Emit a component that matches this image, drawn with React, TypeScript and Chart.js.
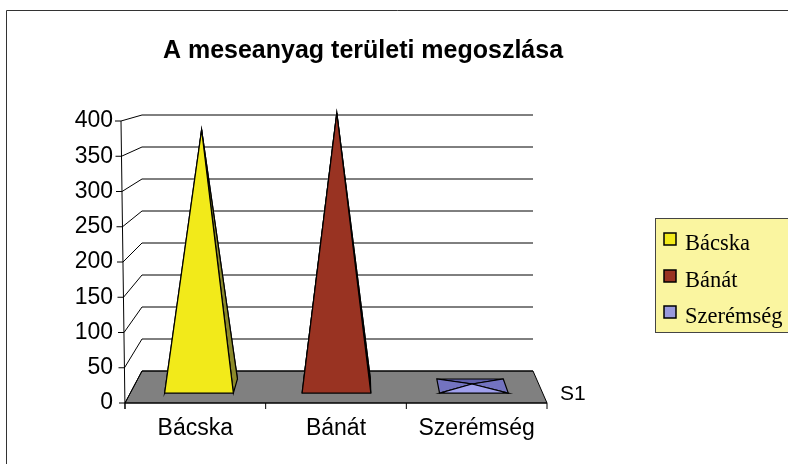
import React, { useEffect, useRef } from "react";
import { Chart, registerables } from "chart.js";

Chart.register(...registerables);

// ---------- data ----------
const chartTitle = "A meseanyag területi megoszlása";
const categories = ["Bácska", "Bánát", "Szerémség"];
const seriesName = "S1";
const seriesValues = [382, 407, 3];
const yMin = 0;
const yMax = 400;
const yStep = 50;

// ---------- styles ----------
const frontColors = ["#F2EA1A", "#993322", "#A0A0EC"];
const sideColors = ["#8C8A2A", "#5E1F14", "#7373C0"];
const backColors = ["#C9C21A", "#7A2A1A", "#5F5FAA"];
const legendColors = ["#F2EA1A", "#993322", "#9999DD"];
const floorColor = "#808080";
const legendFill = "#FAF5A0";
const SANS = "'Liberation Sans', Arial, sans-serif";
const SERIF = "'Liberation Serif', 'Times New Roman', serif";

function geometry(chart: any) {
  const ca = chart.chartArea;
  const l = ca.left, r = ca.right, t = ca.top, b = ca.bottom;
  const bl = l + 17, br = r - 14, bt = t - 6, bb = b - 32;
  const backX = (xf: number) => bl + ((xf - l) * (br - bl)) / (r - l);
  const backY = (yf: number) => bt + ((yf - t) * (bb - bt)) / (b - t);
  const proj = (xf: number, yf: number, d: number): [number, number] => [
    xf + (backX(xf) - xf) * d,
    yf + (backY(yf) - yf) * d,
  ];
  const axisX = (yf: number) => l - (4 * (b - yf)) / (b - t);
  return { l, r, t, b, proj, axisX };
}

function poly(ctx: CanvasRenderingContext2D, pts: [number, number][], fill: string) {
  ctx.beginPath();
  ctx.moveTo(pts[0][0], pts[0][1]);
  for (let i = 1; i < pts.length; i++) ctx.lineTo(pts[i][0], pts[i][1]);
  ctx.closePath();
  ctx.fillStyle = fill;
  ctx.fill();
  ctx.stroke();
}

const frame3d = {
  id: "frame3d",
  beforeDatasetsDraw(chart: any) {
    const ctx: CanvasRenderingContext2D = chart.ctx;
    const xs = chart.scales.x;
    const ys = chart.scales.y;
    const g = geometry(chart);
    const y0 = ys.getPixelForValue(0);
    ctx.save();
    ctx.lineWidth = 1;
    ctx.strokeStyle = "#000";
    // floor
    poly(ctx, [[g.l, y0], g.proj(g.l, y0, 1), g.proj(g.r, y0, 1), [g.r, y0]], floorColor);
    // back wall gridlines + left wall diagonals + tick marks
    ctx.beginPath();
    for (const tk of ys.ticks) {
      const yf = ys.getPixelForValue(tk.value);
      const ax = g.axisX(yf);
      const p0 = g.proj(g.l, yf, 1);
      const p1 = g.proj(g.r, yf, 1);
      ctx.moveTo(ax - 6, yf);
      ctx.lineTo(ax, yf);
      ctx.lineTo(p0[0], p0[1]);
      ctx.lineTo(p1[0], p1[1]);
    }
    // front vertical axis
    ctx.moveTo(g.axisX(g.t), g.t);
    ctx.lineTo(g.l, y0 + 6);
    // front floor edge
    ctx.moveTo(g.l, y0);
    ctx.lineTo(g.r, y0);
    // category boundary ticks
    const cw = xs.getPixelForValue(1) - xs.getPixelForValue(0);
    for (let i = 0; i <= categories.length; i++) {
      const xb = xs.getPixelForValue(0) - cw / 2 + i * cw;
      ctx.moveTo(xb, y0);
      ctx.lineTo(xb, y0 + 6);
    }
    ctx.stroke();
    ctx.restore();
  },
  afterDatasetsDraw(chart: any) {
    const ctx: CanvasRenderingContext2D = chart.ctx;
    const xs = chart.scales.x;
    const ys = chart.scales.y;
    const g = geometry(chart);
    const y0 = ys.getPixelForValue(0);
    const cw = xs.getPixelForValue(1) - xs.getPixelForValue(0);
    const half = cw * 0.25;
    const d1 = 0.31, d2 = 0.75, dm = 0.53;
    ctx.save();
    ctx.lineWidth = 1.2;
    ctx.strokeStyle = "#000";
    ctx.lineJoin = "miter";
    ctx.miterLimit = 12;
    const data = chart.data.datasets[0].data as number[];
    data.forEach((v, i) => {
      const c = xs.getPixelForValue(i);
      const FL = g.proj(c - half, y0, d1);
      const FR = g.proj(c + half, y0, d1);
      const BR = g.proj(c + half, y0, d2);
      const BL = g.proj(c - half, y0, d2);
      const A = g.proj(c, ys.getPixelForValue(v), dm);
      poly(ctx, [BL, BR, A], backColors[i]);
      poly(ctx, [FL, BL, A], sideColors[i]);
      poly(ctx, [FR, BR, A], sideColors[i]);
      poly(ctx, [FL, FR, A], frontColors[i]);
    });
    ctx.restore();
  },
  afterDraw(chart: any) {
    const ctx: CanvasRenderingContext2D = chart.ctx;
    const g = geometry(chart);
    ctx.save();
    // outer chart border
    ctx.strokeStyle = "#333";
    ctx.lineWidth = 1;
    ctx.beginPath();
    ctx.moveTo(6.5, chart.height + 2);
    ctx.lineTo(6.5, 10.5);
    ctx.lineTo(chart.width + 2, 10.5);
    ctx.stroke();
    // title
    ctx.fillStyle = "#000";
    ctx.font = `bold 25px ${SANS}`;
    ctx.textAlign = "center";
    ctx.textBaseline = "alphabetic";
    ctx.fillText(chartTitle, 363, 57.5);
    // series label on depth axis
    ctx.font = `21px ${SANS}`;
    ctx.textAlign = "left";
    ctx.fillText(seriesName, g.r + 13, g.b - 3);
    // legend
    const lx = 655.5, ly = 218.5, lw = 140, lh = 114;
    ctx.fillStyle = legendFill;
    ctx.fillRect(lx, ly, lw, lh);
    ctx.strokeStyle = "#444";
    ctx.strokeRect(lx, ly, lw, lh);
    const baselines = [250, 287, 323];
    ctx.font = `22.5px ${SERIF}`;
    categories.forEach((name, i) => {
      const yb = baselines[i];
      ctx.fillStyle = legendColors[i];
      ctx.fillRect(664, yb - 17, 12, 12);
      ctx.strokeStyle = "#000";
      ctx.lineWidth = 1.5;
      ctx.strokeRect(664, yb - 17, 12, 12);
      ctx.fillStyle = "#000";
      ctx.fillText(name, 685, yb);
    });
    ctx.restore();
  },
};

export default function App() {
  const ref = useRef<HTMLCanvasElement>(null);
  useEffect(() => {
    if (!ref.current) return;
    Chart.defaults.color = "#000";
    const chart = new Chart(ref.current, {
      type: "bar",
      data: {
        labels: categories,
        datasets: [
          {
            label: seriesName,
            data: seriesValues,
            backgroundColor: "rgba(0,0,0,0)",
            borderWidth: 0,
          },
        ],
      },
      options: {
        responsive: false,
        animation: false,
        devicePixelRatio: 1,
        layout: { padding: { top: 121, right: 241, bottom: 0, left: 0 } },
        plugins: {
          legend: { display: false },
          title: { display: false },
          tooltip: { enabled: false },
        },
        scales: {
          x: {
            grid: { display: false, drawTicks: false },
            border: { display: false },
            ticks: {
              font: { family: SANS, size: 23 },
              color: "#000",
              padding: 12,
              autoSkip: false,
              maxRotation: 0,
            },
            afterFit: (s: any) => {
              s.height = 61;
            },
          },
          y: {
            min: yMin,
            max: yMax,
            grid: { display: false, drawTicks: false },
            border: { display: false },
            ticks: {
              stepSize: yStep,
              font: { family: SANS, size: 23 },
              color: "#000",
              padding: 12,
              autoSkip: false,
            },
            afterFit: (s: any) => {
              s.width = 125;
            },
          },
        },
      },
      plugins: [frame3d],
    } as any);
    return () => chart.destroy();
  }, []);
  return (
    <div style={{ position: "fixed", left: 0, top: 0, width: 788, height: 464, background: "#fff" }}>
      <canvas ref={ref} width={788} height={464} style={{ display: "block", width: 788, height: 464 }} />
    </div>
  );
}
